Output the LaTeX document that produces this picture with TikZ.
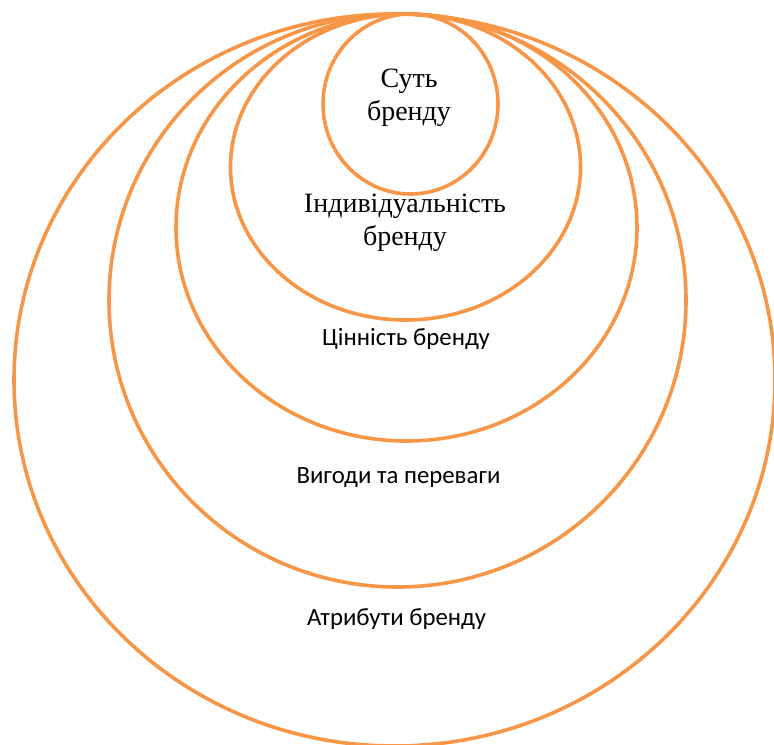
\documentclass[tikz,border=0pt]{standalone}
\usepackage{fontspec}
\setmainfont{Liberation Serif}
\newfontfamily\calibrifont{Carlito}
\definecolor{rorange}{HTML}{F79646}

\begin{document}
\begin{tikzpicture}[x=0.5pt, y=-0.5pt, line width=1.8pt,
    serifnote/.style={anchor=base, align=center, font=\fontsize{14}{16.5}\selectfont},
    sansnote/.style={anchor=base, font=\calibrifont\fontsize{12.4}{15}\selectfont}]
  \useasboundingbox (0,0) rectangle (774,744);

  % nested rings, outer to inner, all touching at the top
  \draw[rorange] (394.5,380) ellipse [x radius=380.5, y radius=366];
  \draw[rorange] (397.5,300.5) ellipse [x radius=288.5, y radius=286.5];
  \draw[rorange] (406.5,227.5) ellipse [x radius=230.5, y radius=213.5];
  \draw[rorange] (405.5,167) ellipse [x radius=175, y radius=153];
  \draw[rorange] (410.5,104) ellipse [x radius=87.5, y radius=90];

  % labels, inner to outer (base sits on the last line)
  \node[serifnote] (core) at (409,120) {Суть\\бренду};
  \node[serifnote] (pers) at (405,245) {Індивідуальність\\бренду};
  \node[sansnote] (value) at (406,345) {Цінність бренду};
  \node[sansnote] (bene) at (398.5,483) {Вигоди та переваги};
  \node[sansnote] (attr) at (396.5,625) {Атрибути бренду};
\end{tikzpicture}
\end{document}
